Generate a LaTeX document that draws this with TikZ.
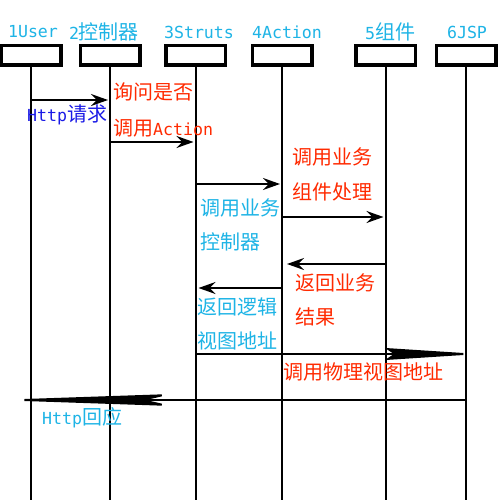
\documentclass[tikz,border=0pt]{standalone}
\usepackage{fontspec}
\setmainfont{Noto Sans CJK SC}
\newfontfamily\lat[Scale=0.83]{DejaVu Sans Mono}
\usetikzlibrary{arrows.meta}
\definecolor{tcyan}{RGB}{30,180,230}
\definecolor{tred}{RGB}{255,42,0}
\definecolor{tblue}{RGB}{26,26,230}

\begin{document}
\begin{tikzpicture}[
		x=1pt,
		y=-1pt,
		head/.style={draw, line width=3.5pt, minimum width=59.5pt, minimum height=19.5pt, inner sep=0pt},
		life/.style={line width=2pt},
		msg/.style={line width=2pt, shorten >=2pt, -{Stealth[length=17pt,width=12pt,inset=6pt]}},
		longmsg/.style 2 args={line width=2pt, -{Stealth[length=#1,width=12pt,inset=#2]}},
		ttl/.style={font=\fontsize{20}{24}\selectfont, text=tcyan, inner sep=0pt},
		note/.style={font=\fontsize{20}{24}\selectfont, anchor=west, inner sep=0pt}
	]

	% Canvas
	\useasboundingbox[fill=white] (0,0) rectangle (500,500);

	% Heads, titles and lifelines
	\foreach \n/\x/\tx/\name in {
			1/31/33/{\lat 1User},
			2/110/104/{{\lat 2}控制器},
			3/195.5/199/{\lat 3Struts},
			4/282/287/{\lat 4Action},
			5/385.5/390/{{\lat 5}组件},
			6/466/467/{\lat 6JSP}
		} {
			\node[head] (b\n) at (\x,55.5) {};
			\node[ttl] (t\n) at (\tx,32) {\name};
			\draw[life] (b\n.south) -- (b\n.south |- 0,500);
		}

	% Messages
	\draw[msg] (b1 |- 0,100) -- (b2 |- 0,100);
	\draw[msg] (b2 |- 0,142) -- (b3 |- 0,142);
	\draw[msg] (b3 |- 0,184) -- (b4 |- 0,184);
	\draw[msg] (b4 |- 0,217) -- (b5 |- 0,217);
	\draw[msg, shorten >=5pt] (b5 |- 0,264) -- (b4 |- 0,264);
	\draw[msg, shorten >=3pt] (b4 |- 0,288) -- (b3 |- 0,288);
	\draw[longmsg={94pt}{9pt}, shorten >=-13pt] (b3 |- 0,354) -- (b6 |- 0,354);
	\draw[longmsg={177pt}{26pt}, shorten >=-36pt] (b6 |- 0,400) -- (b1 |- 0,400);

	% Message labels
	\foreach \x/\y/\c/\txt [count=\i] in {
			27/115/tblue/{{\lat Http}请求},
			113/92/tred/{询问是否},
			113/128/tred/{调用{\lat Action}},
			292/157/tred/{调用业务},
			292/192/tred/{组件处理},
			200/208/tcyan/{调用业务},
			200/242/tcyan/{控制器},
			295/283/tred/{返回业务},
			295/317/tred/{结果},
			197/307/tcyan/{返回逻辑},
			197/341/tcyan/{视图地址},
			283/372/tred/{调用物理视图地址},
			42/418/tcyan/{{\lat Http}回应}
		} {
			\node[note, text=\c] (m\i) at (\x,\y) {\txt};
		}

\end{tikzpicture}
\end{document}
